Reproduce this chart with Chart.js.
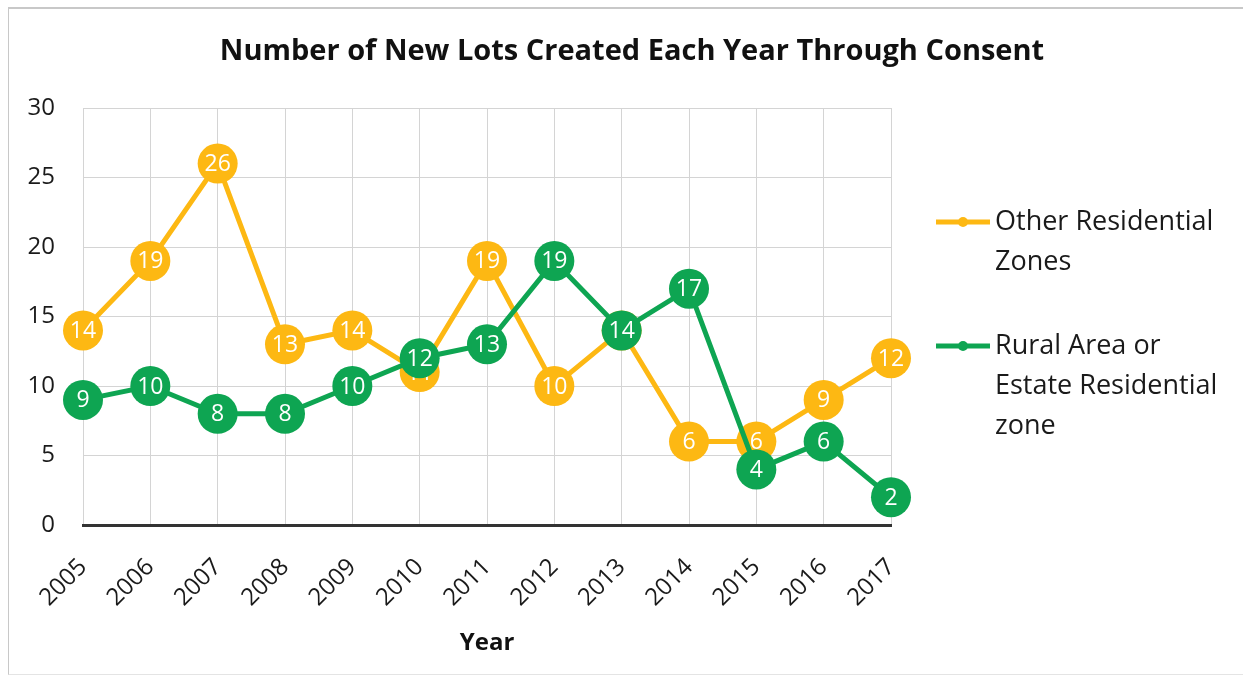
<!DOCTYPE html>
<html>
<head>
<meta charset="utf-8">
<script src="https://cdn.jsdelivr.net/npm/chart.js@4.4.0/dist/chart.umd.min.js"></script>
<style>
  html, body { margin: 0; padding: 0; background: #fff; }
  #wrap { position: relative; width: 1243px; height: 675px; }
  #frame { position: absolute; left: 8px; top: 7px; width: 1240px; height: 665px;
           border-left: 1px solid #c8c8c8; border-top: 2px solid #c8c8c8; border-bottom: 1px solid #e4e4e4; }
  canvas { position: absolute; left: 0; top: 0; }
</style>
</head>
<body>
<div id="wrap">
  <div id="frame"></div>
  <canvas id="lots" width="1243" height="675"></canvas>
</div>
<script>
var years = ['2005', '2006', '2007', '2008', '2009', '2010', '2011', '2012', '2013', '2014', '2015', '2016', '2017'];
var otherResidential = [14, 19, 26, 13, 14, 11, 19, 10, 14, 6, 6, 9, 12];
var ruralResidential = [9, 10, 8, 8, 10, 12, 13, 19, 14, 17, 4, 6, 2];
var seriesNames = [['Other Residential', 'Zones'], ['Rural Area or', 'Estate Residential', 'zone']];
var seriesColors = ['#FDB813', '#0EA552'];
var yTicks = [0, 5, 10, 15, 20, 25, 30];
var chartTitle = 'Number of New Lots Created Each Year Through Consent';

var fontName = '"Open Sans", "DejaVu Sans", sans-serif';

// white value written in the middle of every marker
var valueLabels = {
	id: 'valueLabels',
	afterDatasetDraw: function(chart, args)
	{
		var ctx = chart.ctx;
		var data = chart.data.datasets[args.index].data;
		ctx.save();
		ctx.font = '23px ' + fontName;
		ctx.fillStyle = '#ffffff';
		ctx.textAlign = 'center';
		ctx.textBaseline = 'middle';
		args.meta.data.forEach(function(pt, i) {
			ctx.fillText(String(data[i]), pt.x, pt.y + 1);
		});
		ctx.restore();
	}
};

// title centred over the whole canvas, legend on the right with wrapped names
var sideLegend = {
	id: 'sideLegend',
	afterDraw: function(chart)
	{
		var ctx = chart.ctx;
		ctx.save();
		ctx.fillStyle = '#111';
		ctx.font = 'bold 29px ' + fontName;
		ctx.textAlign = 'center';
		ctx.textBaseline = 'middle';
		ctx.fillText(chartTitle, 632, 52);

		var rows = [222, 346];
		ctx.font = '27px ' + fontName;
		ctx.textAlign = 'left';
		for (var s = 0; s < seriesNames.length; s++)
		{
			var y = rows[s];
			ctx.strokeStyle = seriesColors[s];
			ctx.lineWidth = 5;
			ctx.beginPath();
			ctx.moveTo(936, y);
			ctx.lineTo(990, y);
			ctx.stroke();
			ctx.fillStyle = seriesColors[s];
			ctx.beginPath();
			ctx.arc(963, y, 5, 0, Math.PI * 2);
			ctx.fill();
			ctx.fillStyle = '#1a1a1a';
			for (var l = 0; l < seriesNames[s].length; l++)
			{
				ctx.fillText(seriesNames[s][l], 995, y + l * 40);
			}
		}
		ctx.restore();
	}
};

function lineSet(name, values, color, order)
{
	return {
		label: name,
		data: values,
		borderColor: color,
		backgroundColor: color,
		borderWidth: 5,
		pointRadius: 20,
		pointHoverRadius: 20,
		pointBorderWidth: 0,
		pointBackgroundColor: color,
		tension: 0,
		clip: false,
		order: order
	};
}

var chart = new Chart(document.getElementById('lots'), {
	type: 'line',
	data: {
		labels: years,
		datasets: [
			lineSet(seriesNames[0].join(' '), otherResidential, seriesColors[0], 2),
			lineSet(seriesNames[1].join(' '), ruralResidential, seriesColors[1], 1)
		]
	},
	options: {
		responsive: false,
		animation: false,
		maintainAspectRatio: false,
		layout: { padding: { left: 0, right: 352, top: 108, bottom: 0 } },
		plugins: {
			legend: { display: false },
			tooltip: { enabled: false },
			title: { display: false }
		},
		scales: {
			x: {
				offset: false,
				grid: { color: '#d4d4d4', lineWidth: 1, drawTicks: false },
				border: { color: '#333333', width: 3 },
				ticks: {
					color: '#1a1a1a',
					font: { family: fontName, size: 24 },
					minRotation: 45,
					maxRotation: 45,
					padding: 28
				},
				title: {
					display: true,
					text: 'Year',
					color: '#111',
					font: { family: fontName, size: 24, weight: 'bold' },
					padding: { top: 0, bottom: 17 }
				},
				afterFit: function(scale) { scale.height = 150; }
			},
			y: {
				min: 0,
				max: 30,
				afterBuildTicks: function(scale) {
					scale.ticks = yTicks.map(function(v) { return { value: v }; });
				},
				grid: { color: '#d4d4d4', lineWidth: 1, drawTicks: false },
				border: { display: false },
				ticks: {
					color: '#1a1a1a',
					font: { family: fontName, size: 24 },
					padding: 28
				},
				afterFit: function(scale) { scale.width = 83; }
			}
		}
	},
	plugins: [valueLabels, sideLegend]
});
</script>
</body>
</html>
